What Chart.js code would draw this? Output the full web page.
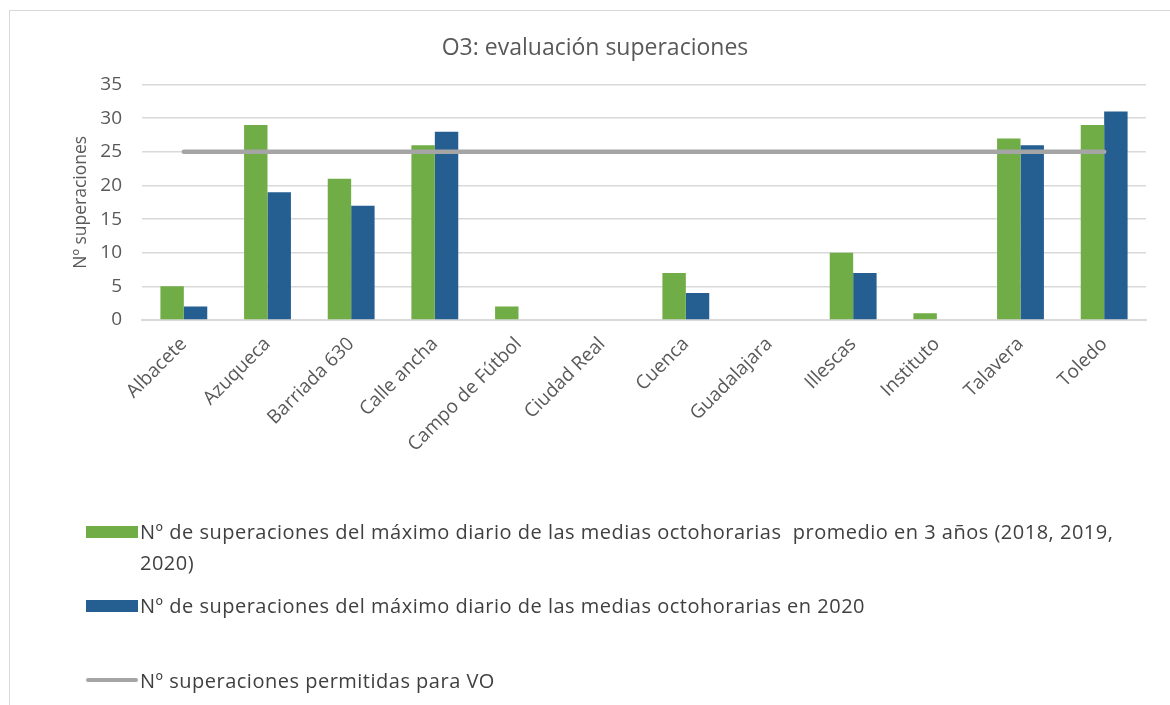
<!DOCTYPE html>
<html>
<head>
<meta charset="utf-8">
<script src="https://cdn.jsdelivr.net/npm/chart.js@4/dist/chart.umd.min.js"></script>
<style>
  html, body { margin: 0; padding: 0; background: #fff; }
  body { width: 1170px; height: 705px; position: relative; overflow: hidden; font-family: "Open Sans", sans-serif; }
  #frame { position: absolute; left: 9px; top: 10px; width: 1170px; height: 720px; border-left: 1px solid #d9d9d9; border-top: 1px solid #d9d9d9; }
  #c { position: absolute; left: 0; top: 0; }
  .leg { position: absolute; left: 86px; color: #404040; font-size: 20px; letter-spacing: 0.5px; line-height: 31px; }
  .leg .sw { position: absolute; left: 0; width: 52px; }
  .leg .tx { position: absolute; left: 54px; white-space: pre; }
</style>
</head>
<body>
<div id="frame"></div>
<canvas id="c" width="1170" height="705"></canvas>
<div id="legend"></div>
<script>
const categories = ["Albacete","Azuqueca","Barriada 630","Calle ancha","Campo de Fútbol","Ciudad Real","Cuenca","Guadalajara","Illescas","Instituto","Talavera","Toledo"];
const promedio3Anos = [5, 29, 21, 26, 2, 0, 7, 0, 10, 1, 27, 29];
const valores2020 = [2, 19, 17, 28, 0, 0, 4, 0, 7, 0, 26, 31];
const permitidas = [25, 25, 25, 25, 25, 25, 25, 25, 25, 25, 25, 25];
const yTicks = [0, 5, 10, 15, 20, 25, 30, 35];
const seriesNames = [
  "Nº de superaciones del máximo diario de las medias octohorarias  promedio en 3 años (2018, 2019,\n2020)",
  "Nº de superaciones del máximo diario de las medias octohorarias en 2020",
  "Nº superaciones permitidas para VO"
];
const titleText = "O3: evaluación superaciones";
const yTitle = "Nº superaciones";

const green = '#70ad47', blue = '#255e91', gray = '#a5a5a5';
const txt = '#595959';

new Chart(document.getElementById('c'), {
  data: {
    labels: categories,
    datasets: [
      { type: 'line', label: seriesNames[2], data: permitidas, borderColor: gray, borderWidth: 4.5,
        borderCapStyle: 'round', pointRadius: 0, order: 0 },
      { type: 'bar', label: seriesNames[0], data: promedio3Anos, backgroundColor: green,
        categoryPercentage: 0.56, barPercentage: 1.0, order: 1 },
      { type: 'bar', label: seriesNames[1], data: valores2020, backgroundColor: blue,
        categoryPercentage: 0.56, barPercentage: 1.0, order: 1 }
    ]
  },
  options: {
    responsive: false,
    animation: false,
    layout: { padding: { left: 20, right: 0, top: 0, bottom: 0 } },
    plugins: {
      legend: { display: false },
      tooltip: { enabled: false },
      title: { display: true, text: titleText, color: txt,
        font: { family: 'Open Sans', size: 23, weight: 'normal', lineHeight: 1.2 },
        padding: { top: 35, bottom: 22 } }
    },
    scales: {
      x: {
        grid: { display: false },
        border: { display: true, color: '#d9d9d9', width: 2 },
        ticks: { color: txt, font: { family: 'Open Sans', size: 19 }, minRotation: 45, maxRotation: 45,
          autoSkip: false, padding: 5 },
        afterFit: s => { s.height = 385; }
      },
      y: {
        min: 0, max: 35,
        afterBuildTicks: s => { s.ticks = yTicks.map(v => ({ value: v })); },
        grid: { color: '#d9d9d9', lineWidth: 1.5, drawTicks: false },
        border: { display: false },
        ticks: { color: txt, font: { family: 'Open Sans', size: 19 }, padding: 20 },
        title: { display: true, text: yTitle, color: txt, font: { family: 'Open Sans', size: 17.5 },
          padding: { top: 51 } },
        afterFit: s => { s.width = 122; }
      },
      yRight: {
        position: 'right', min: 0, max: 35,
        grid: { display: false, drawTicks: false },
        border: { display: false },
        ticks: { display: false },
        afterFit: s => { s.width = 24; }
      }
    }
  }
});

// HTML legend
const legend = document.getElementById('legend');
const items = [
  { top: 516, color: green, kind: 'box', text: seriesNames[0] },
  { top: 590, color: blue, kind: 'box', text: seriesNames[1] },
  { top: 665, color: gray, kind: 'line', text: seriesNames[2] }
];
items.forEach(it => {
  const d = document.createElement('div');
  d.className = 'leg';
  d.style.top = it.top + 'px';
  const sw = document.createElement('div');
  sw.className = 'sw';
  sw.style.background = it.color;
  if (it.kind === 'box') { sw.style.top = '10px'; sw.style.height = '12px'; }
  else { sw.style.top = '13px'; sw.style.height = '4px'; sw.style.borderRadius = '2px'; }
  const tx = document.createElement('div');
  tx.className = 'tx';
  tx.textContent = it.text;
  d.appendChild(sw); d.appendChild(tx);
  legend.appendChild(d);
});
</script>
</body>
</html>
